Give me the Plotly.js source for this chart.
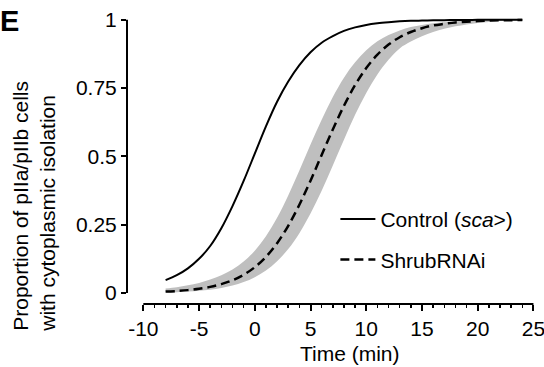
<!DOCTYPE html>
<html>
<head>
<meta charset="utf-8">
<script src="https://cdn.plot.ly/plotly-3.0.1.min.js"></script>
<style>html,body{margin:0;padding:0;background:#fff;}#chart{width:544px;height:367px;}</style>
</head>
<body>
<div id="chart"></div>
<script>
// Time (min)
var time = [-8,-7,-6,-5,-4,-3,-2,-1,0,1,2,3,4,5,6,7,8,9,10,11,12,13,14,15,16,17,18,19,20,21,22,23,24];
// Control (sca>) fitted proportion
var control = [0.047,0.065,0.090,0.125,0.172,0.237,0.318,0.410,0.510,0.610,0.700,0.774,0.834,0.881,0.916,0.940,0.959,0.972,0.981,0.987,0.991,0.994,0.996,0.997,0.998,0.9985,0.999,0.9993,0.9995,0.9997,0.9998,0.9999,1.0];
// ShrubRNAi fitted proportion
var shrub = [0.005,0.0072,0.0105,0.0154,0.0223,0.0323,0.0465,0.0666,0.0944,0.132,0.182,0.246,0.323,0.411,0.505,0.598,0.685,0.761,0.823,0.872,0.909,0.936,0.955,0.969,0.979,0.985,0.990,0.993,0.995,0.997,0.998,0.9985,0.999];
// ShrubRNAi confidence band
var shrubUpper = [0.016,0.021,0.028,0.037,0.049,0.065,0.086,0.115,0.155,0.208,0.275,0.357,0.448,0.543,0.634,0.717,0.788,0.844,0.888,0.921,0.944,0.961,0.973,0.981,0.987,0.991,0.994,0.996,0.997,0.998,0.9986,0.999,0.9993];
var shrubLower = [0.002,0.003,0.005,0.008,0.012,0.018,0.027,0.040,0.058,0.082,0.116,0.161,0.219,0.291,0.374,0.467,0.561,0.652,0.732,0.800,0.854,0.895,0.920,0.940,0.955,0.967,0.976,0.983,0.988,0.992,0.995,0.997,0.998];

var xTicks = [-10,-5,0,5,10,15,20,25];
var xTickText = ['-10','-5','0','5','10','15','20','25'];
var yTicks = [0,0.25,0.5,0.75,1];
var yTickText = ['0','0.25','0.5','0.75','1'];
var xMinor = [];
for (var m = -10; m <= 25; m++) { if (xTicks.indexOf(m) < 0) xMinor.push(m); }

var FONT = 'Arial, "Liberation Sans", sans-serif';

var traces = [
  {x: time, y: shrubLower, type: 'scatter', mode: 'lines', line: {width: 0, shape: 'spline'}, showlegend: false, hoverinfo: 'skip'},
  {x: time, y: shrubUpper, type: 'scatter', mode: 'lines', line: {width: 0, shape: 'spline'}, fill: 'tonexty', fillcolor: '#bfbfbf', showlegend: false, hoverinfo: 'skip'},
  {x: time, y: shrub, type: 'scatter', mode: 'lines', name: 'ShrubRNAi', legendgroup: 'b', legendrank: 2,
   line: {color: '#000', width: 2.5, dash: '9px,5px', shape: 'spline'}},
  {x: time, y: control, type: 'scatter', mode: 'lines', name: 'Control (<i>sca</i>&gt;)', legendgroup: 'a', legendrank: 1,
   line: {color: '#000', width: 2, shape: 'spline'}}
];

var layout = {
  width: 544, height: 367,
  margin: {l: 127, r: 10.1, t: 17, b: 63},
  paper_bgcolor: '#fff', plot_bgcolor: '#fff',
  font: {family: FONT, size: 21, color: '#000'},
  showlegend: true,
  legend: {x: 0.512, xanchor: 'left', y: 0.366, yanchor: 'top', font: {family: FONT, size: 21, color: '#000'},
           itemwidth: 35, bgcolor: 'rgba(0,0,0,0)', traceorder: 'grouped', tracegroupgap: 10},
  xaxis: {range: [-11.464, 25.05], showgrid: false, zeroline: false, showline: false,
          tickmode: 'array', tickvals: xTicks, ticktext: xTickText, ticklabeloverflow: 'allow',
          ticks: 'outside', ticklen: 6, tickwidth: 2, tickcolor: '#000',
          tickfont: {family: FONT, size: 21, color: '#000'},
          minor: {tickmode: 'array', tickvals: xMinor, ticks: 'outside', ticklen: 3, tickwidth: 1.5, tickcolor: '#000', showgrid: false}},
  yaxis: {range: [-0.0403, 1.01], showgrid: false, zeroline: false, showline: false,
          tickmode: 'array', tickvals: yTicks, ticktext: yTickText, ticklabeloverflow: 'allow',
          ticks: 'outside', ticklen: 5, tickwidth: 2, tickcolor: '#000',
          tickfont: {family: FONT, size: 21, color: '#000'}},
  shapes: [
    {type: 'line', xref: 'paper', yref: 'y', x0: 0, x1: 0, y0: 0, y1: 1, line: {color: '#000', width: 2}},
    {type: 'line', xref: 'x', yref: 'paper', x0: -10, x1: 25, y0: 0, y1: 0, line: {color: '#000', width: 2}}
  ],
  annotations: [
    {text: '<b>E</b>', xref: 'paper', yref: 'paper', x: -0.318, y: 0.985, xanchor: 'left', yanchor: 'middle',
     showarrow: false, font: {family: FONT, size: 29, color: '#000'}},
    {text: 'Proportion of pIIa/pIIb cells<br>with cytoplasmic isolation', xref: 'paper', yref: 'paper',
     x: -0.229, y: 0.3415, xanchor: 'center', yanchor: 'middle', textangle: -90, align: 'left',
     showarrow: false, font: {family: FONT, size: 21, color: '#000'}},
    {text: 'Time (min)', xref: 'paper', yref: 'paper', x: 0.5475, y: -0.174, xanchor: 'center', yanchor: 'middle',
     showarrow: false, font: {family: FONT, size: 21, color: '#000'}}
  ]
};

Plotly.newPlot('chart', traces, layout, {displayModeBar: false, staticPlot: true});
</script>
</body>
</html>
